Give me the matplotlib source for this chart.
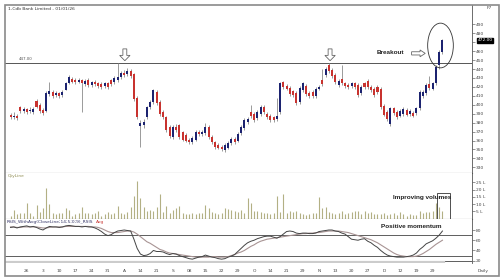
import numpy as np
import matplotlib.pyplot as plt
from matplotlib.patches import Polygon, Ellipse, Rectangle

# daily candles
opens = [389, 386, 388, 397, 393, 395, 393, 392, 404, 400,
         394, 393, 412, 414, 411, 413, 411, 417, 424, 429,
         428, 426, 428, 423, 428, 422, 426, 424, 423, 421,
         424, 428, 425, 428, 431, 436, 434, 438, 434, 408,
         376, 377, 386, 397, 403, 414, 403, 392, 386, 375,
         364, 375, 377, 369, 366, 361, 358, 361, 370, 367,
         368, 375, 364, 358, 355, 353, 349, 352, 357, 362,
         360, 368, 374, 381, 392, 390, 385, 390, 398, 390,
         388, 386, 384, 392, 425, 421, 419, 415, 413, 403,
         416, 421, 413, 414, 410, 418, 428, 433, 444, 439,
         433, 422, 429, 424, 422, 421, 424, 422, 413, 424,
         427, 420, 418, 420, 418, 399, 392, 378, 396, 392,
         388, 390, 394, 390, 391, 391, 396, 410, 413, 423,
         418, 424, 445, 459]
closes = [386, 388, 385, 393, 395, 392, 394, 395, 398, 393,
          391, 413, 415, 410, 413, 410, 414, 424, 431, 426,
          425, 428, 424, 427, 422, 425, 423, 421, 420, 424,
          420, 423, 430, 431, 436, 433, 438, 432, 406, 386,
          380, 381, 397, 403, 416, 402, 390, 386, 372, 365,
          375, 372, 364, 361, 360, 358, 363, 370, 367, 370,
          375, 364, 358, 353, 352, 350, 355, 357, 362, 358,
          367, 375, 383, 384, 387, 383, 392, 398, 392, 386,
          383, 383, 388, 424, 420, 418, 412, 411, 402, 419,
          424, 412, 410, 410, 418, 420, 423, 440, 438, 432,
          425, 427, 424, 421, 420, 424, 420, 411, 420, 420,
          420, 416, 411, 414, 397, 389, 384, 396, 391, 386,
          393, 395, 389, 393, 388, 396, 414, 414, 422, 419,
          424, 442, 459, 472]
highs = [391, 392, 390, 399, 397, 396, 397, 397, 406, 402,
         396, 415, 425, 416, 415, 414, 416, 425, 433, 431,
         430, 430, 429, 429, 430, 427, 428, 426, 425, 426,
         426, 429, 432, 447, 438, 439, 441, 440, 436, 410,
         383, 384, 399, 405, 418, 416, 405, 394, 388, 377,
         377, 378, 379, 371, 368, 363, 365, 372, 372, 372,
         380, 377, 366, 360, 357, 355, 357, 359, 364, 364,
         369, 377, 385, 386, 400, 392, 394, 400, 400, 392,
         390, 388, 408, 426, 427, 423, 421, 417, 415, 421,
         426, 423, 415, 416, 420, 422, 440, 442, 447, 441,
         435, 429, 445, 426, 424, 426, 426, 424, 422, 426,
         429, 422, 420, 422, 420, 401, 394, 398, 398, 394,
         395, 397, 396, 395, 393, 398, 416, 416, 424, 432,
         426, 444, 461, 474]
lows = [384, 384, 383, 391, 391, 390, 391, 390, 396, 391,
        389, 392, 410, 408, 409, 408, 409, 416, 423, 424,
        423, 424, 392, 421, 420, 420, 421, 419, 418, 419,
        418, 421, 423, 426, 429, 431, 432, 430, 404, 384,
        353, 374, 384, 395, 401, 400, 388, 384, 370, 363,
        362, 370, 362, 359, 358, 356, 356, 359, 365, 365,
        366, 362, 356, 351, 350, 348, 347, 350, 355, 356,
        358, 366, 372, 379, 385, 381, 383, 388, 390, 384,
        381, 381, 382, 390, 418, 416, 410, 409, 400, 401,
        414, 410, 408, 408, 408, 416, 421, 431, 436, 430,
        423, 420, 422, 419, 418, 419, 418, 409, 411, 418,
        418, 414, 409, 412, 395, 387, 382, 376, 389, 384,
        386, 388, 387, 388, 386, 389, 394, 408, 411, 417,
        416, 422, 440, 457]

# volume in lakhs
volume = [2, 5.7, 3, 3.5, 3.5, 11, 3.5, 2, 9.5, 4.5,
          7, 21, 10, 3.5, 3, 4, 3.5, 7, 6, 2,
          3, 4, 8, 4, 3.5, 3, 3.5, 5, 2, 3,
          4.5, 3, 4, 8.5, 3.5, 3, 4.5, 8, 15.5, 26,
          14, 8, 5.5, 6, 5, 8, 17, 4.5, 9, 4,
          6, 7, 9, 3.5, 3, 3, 3.5, 3, 3.5, 4,
          9.5, 7, 4.5, 3.5, 3, 3.5, 7, 6.5, 6, 5,
          4.5, 6, 4, 14.5, 11, 5, 5, 4.5, 4, 3.5,
          3, 4, 15.5, 4.5, 17, 4, 5, 4.5, 5, 4,
          3, 2.5, 3, 3.5, 4, 15, 7.5, 8, 4.5, 3.5,
          3, 3.5, 5.5, 3, 3.5, 4.5, 5, 5, 3, 5,
          3.5, 4.5, 3, 3, 3, 3.5, 2.5, 3, 3.5, 2.5,
          4.5, 3, 2, 3, 2.5, 2.5, 5, 3.5, 4.5, 4.5,
          5.5, 10.5, 8, 5.5]

rsi = [85, 86, 84, 86, 87, 88, 86, 87, 85, 82,
       80, 84, 87, 86, 86, 85, 86, 88, 89, 88,
       87, 87, 86, 87, 86, 86, 84, 81, 77, 72,
       69, 71, 75, 78, 79, 80, 79, 78, 62, 44,
       33, 30, 31, 34, 40, 38, 38, 37, 34, 32,
       34, 33, 30, 28, 26, 24, 23, 25, 27, 28,
       31, 29, 27, 26, 24, 23, 24, 27, 29, 32,
       38, 44, 50, 55, 58, 60, 63, 65, 67, 68,
       68, 66, 64, 67, 72, 77, 78, 77, 74, 73,
       74, 74, 73, 73, 74, 77, 78, 79, 80, 80,
       78, 77, 74, 72, 67, 62, 61, 60, 62, 63,
       58, 55, 50, 46, 40, 35, 31, 29, 28, 27,
       27, 27, 28, 29, 31, 35, 42, 47, 53, 56,
       59, 64, 70, 78]
rsi_avg = [86, 86, 85, 85, 86, 86, 86, 86, 86, 85,
           84, 84, 85, 86, 86, 86, 86, 87, 87, 87,
           87, 87, 87, 87, 87, 86, 86, 85, 83, 80,
           77, 75, 75, 75, 76, 77, 78, 78, 76, 72,
           67, 62, 57, 54, 50, 46, 42, 40, 37, 35,
           34, 33, 32, 31, 30, 29, 28, 27, 27, 27,
           27, 27, 28, 28, 27, 27, 27, 28, 30, 32,
           35, 37, 40, 44, 48, 51, 55, 58, 60, 62,
           63, 64, 65, 66, 67, 68, 69, 70, 71, 72,
           73, 73, 74, 74, 75, 75, 76, 77, 78, 78,
           78, 78, 77, 76, 75, 73, 71, 69, 67, 65,
           63, 61, 58, 55, 51, 47, 43, 39, 35, 32,
           30, 29, 28, 28, 28, 29, 31, 34, 38, 42,
           47, 52, 56, 60]

date_labels = ['26', '3', '10', '17', '24', '31', 'A', '14', '21', 'S', '08', '15', '22',
               '29', 'O', '14', '21', '29', 'N', '13', '20', '27', 'D', '12', '19', '29']
price_ticks = list(range(330, 491, 10))
vol_ticks = [5, 10, 15, 20, 25]
rsi_ticks = [20, 40, 60, 80]
resistance = 447.0
last_close = 472.0

UP = '#1c2370'
DOWN = '#c8332f'
WICK = '#8a8a8a'
FS = 3.2

fig = plt.figure(figsize=(5, 2.8), dpi=100)

def fx(x):
    return x / 500

def fy(y):
    return 1 - y / 280

L, W = fx(5), fx(472) - fx(5)
ax_p = fig.add_axes([L, fy(173), W, fy(5) - fy(173)])
ax_v = fig.add_axes([L, fy(219), W, fy(173) - fy(219)], sharex=ax_p)
ax_r = fig.add_axes([L, fy(263), W, fy(219) - fy(263)], sharex=ax_p)

idx = np.arange(len(closes))
o = np.array(opens)
c = np.array(closes)
up = c >= o

# candles
ax_p.vlines(idx, lows, highs, color=WICK, lw=0.6, zorder=2)
ax_p.bar(idx[up], (c - o)[up], bottom=o[up], width=0.62, color=UP, zorder=3)
ax_p.bar(idx[~up], (o - c)[~up], bottom=c[~up], width=0.62, color=DOWN, zorder=3)
ax_p.axhline(resistance, color='#555555', lw=0.7, zorder=1)
ax_p.set_xlim(-1.7, 142.1)
ax_p.set_ylim(323.7, 511.6)

# volume
ax_v.vlines(idx, 0, volume, color='#b3b084', lw=0.8)
ax_v.set_ylim(-0.3, 31.4)

# RSI
for lvl in (70, 30, 20):
    ax_r.axhline(lvl, color='#444444', lw=0.6)
ax_r.axhline(16.8, xmax=0.94, color='#cccccc', lw=1.6)
ax_r.plot(idx, rsi_avg, color='#a89494', lw=0.8)
ax_r.plot(idx, rsi, color='#444444', lw=0.7)
ax_r.set_ylim(15.5, 101.5)

for ax in (ax_p, ax_v, ax_r):
    for s in ('left', 'top'):
        ax.spines[s].set_visible(False)
    ax.spines['right'].set_color('#555555')
    ax.spines['right'].set_linewidth(0.6)
    ax.spines['bottom'].set_color('#555555')
    ax.spines['bottom'].set_linewidth(0.8)
    ax.yaxis.tick_right()
    ax.tick_params(axis='y', length=2, width=0.4, labelsize=FS, pad=1, colors='#444444')
    ax.tick_params(axis='x', length=0)
ax_r.spines['bottom'].set_visible(False)
ax_p.tick_params(axis='x', labelbottom=False)
ax_v.tick_params(axis='x', labelbottom=False)

# the 470 label sits under the last-price tag
ax_p.set_yticks(price_ticks)
ax_p.set_yticklabels(['' if t == 470 else str(t) for t in price_ticks])
ax_v.set_yticks(vol_ticks)
ax_v.set_yticklabels([f'{v} L' for v in vol_ticks])
ax_r.set_yticks(rsi_ticks)
ax_r.set_xticks(range(5, 5 * len(date_labels) + 1, 5))
ax_r.set_xticklabels(date_labels)
ax_r.tick_params(axis='x', labelsize=FS, pad=4.5, colors='#444444')

# last price tag
ax_p.text(1.012, last_close, f'{last_close:.2f}', transform=ax_p.get_yaxis_transform(),
          fontsize=FS, color='white', va='center', ha='left', zorder=5,
          bbox=dict(boxstyle='square,pad=0.15', fc='black', ec='black'))
ax_p.text(12 / 3.248 - 1.7 + 0.5, resistance + 1.5, f'{resistance:.2f}', fontsize=FS - 0.3,
          color='#555555', va='bottom')

# hollow down arrows on the two resistance touches
def down_arrow(ax, xc, top, tip):
    mid = tip + (top - tip) * 0.45
    pts = [(xc - 0.6, top), (xc + 0.6, top), (xc + 0.6, mid), (xc + 1.6, mid),
           (xc, tip), (xc - 1.6, mid), (xc - 0.6, mid)]
    ax.add_patch(Polygon(pts, closed=True, fc='white', ec='#666666', lw=0.6, zorder=4))

down_arrow(ax_p, 35.2, 462.5, 449.3)
down_arrow(ax_p, 98.4, 462.5, 449.3)

# breakout arrow and circle
yc = 457.5
pts = [(123.5, yc + 1.8), (126.1, yc + 1.8), (126.1, yc + 3.8), (127.7, yc),
       (126.1, yc - 3.8), (126.1, yc - 1.8), (123.5, yc - 1.8)]
ax_p.add_patch(Polygon(pts, closed=True, fc='white', ec='#666666', lw=0.6, zorder=4))
ax_p.add_patch(Ellipse((132.4, 466.3), 7.9, 50, fill=False, ec='#333333', lw=0.6, zorder=4))
ax_v.add_patch(Rectangle((131.3, -1.2), 4.0, 18.8, fill=False, ec='#333333', lw=0.6,
                         clip_on=False, zorder=4))

bold = dict(family='Liberation Sans', fontweight='bold', fontsize=4.6, color='#222222')
fig.text(fx(377), fy(53), 'Breakout', va='center', ha='left', **bold)
fig.text(fx(393), fy(197), 'Improving volumes', va='center', ha='left', **bold)
fig.text(fx(381), fy(226), 'Positive momentum', va='center', ha='left', **bold)

# captions
fig.text(fx(8), fy(8.5), '1-Cdb Bank Limited - 01/01/26', fontsize=FS, color='#333333', va='center')
fig.text(fx(487), fy(8), 'F7', fontsize=FS, color='#444444', va='center')
fig.text(fx(8), fy(176.5), 'QtyLine', fontsize=FS, color='#8f8c50', va='center')
fig.text(fx(7), fy(222.5), 'RSIS_WithAvg(CloseLine;14;5;0;9)_RSIS', fontsize=FS,
         color='#333366', va='center')
fig.text(fx(96), fy(222.5), 'Avg', fontsize=FS, color='#c8332f', va='center')
fig.text(fx(478), fy(271), 'Daily', fontsize=FS, color='#444444', va='center')

fig.patches.append(Rectangle((fx(5), fy(275.5)), fx(499) - fx(5), fy(5) - fy(275.5),
                             transform=fig.transFigure, fill=False, ec='#8a8a8a', lw=1.2))

fig.savefig('out.png', dpi=100)
